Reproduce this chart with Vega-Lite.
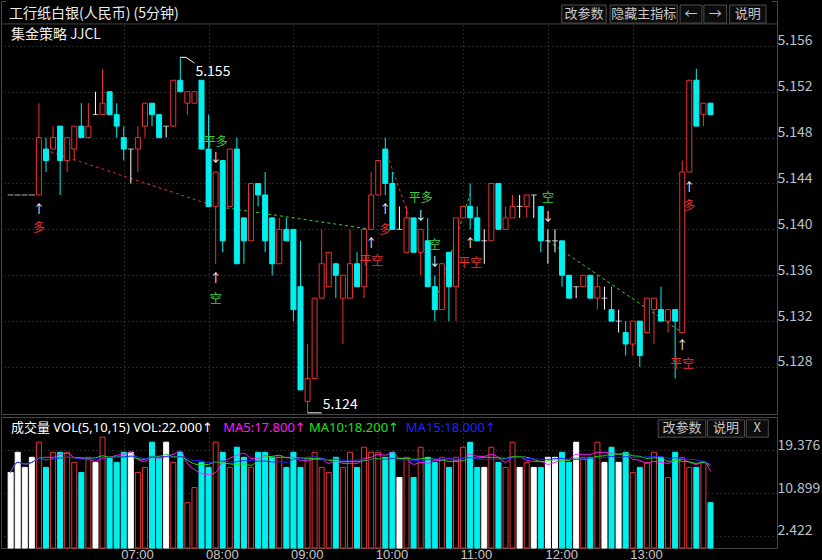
{
  "$schema": "https://vega.github.io/schema/vega-lite/v6.json",
  "background": "#000000",
  "padding": 0,
  "spacing": 0,
  "config": {
    "font": "Noto Sans CJK SC",
    "view": {"stroke": "#454545", "strokeWidth": 1},
    "axis": {"gridColor": "#4a4a4a", "gridDash": [1, 3], "gridWidth": 1, "domain": false, "ticks": false, "labelColor": "#b9c1cc", "labelFontSize": 14, "labelFont": "Noto Sans CJK SC"}
  },
  "resolve": {"scale": {"color": "independent"}},
  "datasets": {
    "bars": [
      {"t":"2024-01-02T05:40","o":5.143,"h":5.143,"l":5.143,"c":5.143,"v":15},
      {"t":"2024-01-02T05:45","o":5.143,"h":5.143,"l":5.143,"c":5.143,"v":19},
      {"t":"2024-01-02T05:50","o":5.143,"h":5.143,"l":5.143,"c":5.143,"v":16},
      {"t":"2024-01-02T05:55","o":5.143,"h":5.143,"l":5.143,"c":5.143,"v":18},
      {"t":"2024-01-02T06:00","o":5.143,"h":5.151,"l":5.143,"c":5.148,"v":21},
      {"t":"2024-01-02T06:05","o":5.147,"h":5.148,"l":5.145,"c":5.146,"v":16},
      {"t":"2024-01-02T06:10","o":5.147,"h":5.149,"l":5.147,"c":5.148,"v":19},
      {"t":"2024-01-02T06:15","o":5.149,"h":5.149,"l":5.143,"c":5.146,"v":19},
      {"t":"2024-01-02T06:20","o":5.146,"h":5.148,"l":5.145,"c":5.148,"v":19},
      {"t":"2024-01-02T06:25","o":5.147,"h":5.149,"l":5.146,"c":5.149,"v":17},
      {"t":"2024-01-02T06:30","o":5.149,"h":5.151,"l":5.148,"c":5.148,"v":15},
      {"t":"2024-01-02T06:35","o":5.148,"h":5.151,"l":5.148,"c":5.149,"v":18},
      {"t":"2024-01-02T06:40","o":5.150,"h":5.152,"l":5.150,"c":5.150,"v":17},
      {"t":"2024-01-02T06:45","o":5.150,"h":5.154,"l":5.150,"c":5.151,"v":22},
      {"t":"2024-01-02T06:50","o":5.152,"h":5.152,"l":5.150,"c":5.150,"v":18},
      {"t":"2024-01-02T06:55","o":5.150,"h":5.151,"l":5.148,"c":5.149,"v":17},
      {"t":"2024-01-02T07:00","o":5.148,"h":5.149,"l":5.146,"c":5.147,"v":19},
      {"t":"2024-01-02T07:05","o":5.147,"h":5.147,"l":5.144,"c":5.147,"v":19},
      {"t":"2024-01-02T07:10","o":5.147,"h":5.149,"l":5.145,"c":5.148,"v":15},
      {"t":"2024-01-02T07:15","o":5.149,"h":5.151,"l":5.148,"c":5.151,"v":16},
      {"t":"2024-01-02T07:20","o":5.151,"h":5.151,"l":5.149,"c":5.150,"v":21},
      {"t":"2024-01-02T07:25","o":5.150,"h":5.150,"l":5.148,"c":5.148,"v":18},
      {"t":"2024-01-02T07:30","o":5.149,"h":5.149,"l":5.148,"c":5.149,"v":21},
      {"t":"2024-01-02T07:35","o":5.149,"h":5.153,"l":5.149,"c":5.153,"v":17},
      {"t":"2024-01-02T07:40","o":5.153,"h":5.155,"l":5.152,"c":5.152,"v":19},
      {"t":"2024-01-02T07:45","o":5.151,"h":5.152,"l":5.150,"c":5.152,"v":9},
      {"t":"2024-01-02T07:50","o":5.151,"h":5.152,"l":5.151,"c":5.152,"v":12},
      {"t":"2024-01-02T07:55","o":5.153,"h":5.153,"l":5.147,"c":5.147,"v":17},
      {"t":"2024-01-02T08:00","o":5.147,"h":5.150,"l":5.142,"c":5.142,"v":16},
      {"t":"2024-01-02T08:05","o":5.142,"h":5.145,"l":5.137,"c":5.145,"v":21},
      {"t":"2024-01-02T08:10","o":5.146,"h":5.146,"l":5.138,"c":5.139,"v":19},
      {"t":"2024-01-02T08:15","o":5.142,"h":5.147,"l":5.142,"c":5.147,"v":16},
      {"t":"2024-01-02T08:20","o":5.147,"h":5.148,"l":5.137,"c":5.137,"v":20},
      {"t":"2024-01-02T08:25","o":5.141,"h":5.141,"l":5.137,"c":5.139,"v":18},
      {"t":"2024-01-02T08:30","o":5.139,"h":5.144,"l":5.139,"c":5.144,"v":16},
      {"t":"2024-01-02T08:35","o":5.144,"h":5.144,"l":5.142,"c":5.143,"v":19},
      {"t":"2024-01-02T08:40","o":5.143,"h":5.145,"l":5.138,"c":5.139,"v":19},
      {"t":"2024-01-02T08:45","o":5.141,"h":5.141,"l":5.136,"c":5.137,"v":18},
      {"t":"2024-01-02T08:50","o":5.137,"h":5.141,"l":5.137,"c":5.140,"v":18},
      {"t":"2024-01-02T08:55","o":5.140,"h":5.141,"l":5.139,"c":5.139,"v":16},
      {"t":"2024-01-02T09:00","o":5.140,"h":5.140,"l":5.132,"c":5.133,"v":19},
      {"t":"2024-01-02T09:05","o":5.135,"h":5.139,"l":5.126,"c":5.126,"v":16},
      {"t":"2024-01-02T09:10","o":5.125,"h":5.130,"l":5.124,"c":5.127,"v":18},
      {"t":"2024-01-02T09:15","o":5.127,"h":5.134,"l":5.127,"c":5.134,"v":19},
      {"t":"2024-01-02T09:20","o":5.134,"h":5.140,"l":5.134,"c":5.137,"v":16},
      {"t":"2024-01-02T09:25","o":5.135,"h":5.138,"l":5.135,"c":5.138,"v":15},
      {"t":"2024-01-02T09:30","o":5.137,"h":5.137,"l":5.134,"c":5.136,"v":18},
      {"t":"2024-01-02T09:35","o":5.134,"h":5.136,"l":5.130,"c":5.136,"v":16},
      {"t":"2024-01-02T09:40","o":5.134,"h":5.140,"l":5.134,"c":5.137,"v":19},
      {"t":"2024-01-02T09:45","o":5.137,"h":5.138,"l":5.135,"c":5.135,"v":16},
      {"t":"2024-01-02T09:50","o":5.135,"h":5.140,"l":5.134,"c":5.140,"v":20},
      {"t":"2024-01-02T09:55","o":5.140,"h":5.145,"l":5.140,"c":5.143,"v":19},
      {"t":"2024-01-02T10:00","o":5.143,"h":5.146,"l":5.143,"c":5.146,"v":19},
      {"t":"2024-01-02T10:05","o":5.147,"h":5.148,"l":5.143,"c":5.144,"v":18},
      {"t":"2024-01-02T10:10","o":5.144,"h":5.145,"l":5.140,"c":5.140,"v":19},
      {"t":"2024-01-02T10:15","o":5.140,"h":5.142,"l":5.140,"c":5.140,"v":14},
      {"t":"2024-01-02T10:20","o":5.138,"h":5.142,"l":5.138,"c":5.141,"v":18},
      {"t":"2024-01-02T10:25","o":5.141,"h":5.141,"l":5.138,"c":5.138,"v":14},
      {"t":"2024-01-02T10:30","o":5.138,"h":5.140,"l":5.136,"c":5.140,"v":20},
      {"t":"2024-01-02T10:35","o":5.139,"h":5.141,"l":5.135,"c":5.135,"v":18},
      {"t":"2024-01-02T10:40","o":5.135,"h":5.136,"l":5.132,"c":5.133,"v":17},
      {"t":"2024-01-02T10:45","o":5.133,"h":5.137,"l":5.133,"c":5.137,"v":18},
      {"t":"2024-01-02T10:50","o":5.138,"h":5.138,"l":5.132,"c":5.135,"v":16},
      {"t":"2024-01-02T10:55","o":5.135,"h":5.141,"l":5.132,"c":5.141,"v":18},
      {"t":"2024-01-02T11:00","o":5.141,"h":5.142,"l":5.141,"c":5.142,"v":20},
      {"t":"2024-01-02T11:05","o":5.142,"h":5.144,"l":5.140,"c":5.141,"v":21},
      {"t":"2024-01-02T11:10","o":5.141,"h":5.142,"l":5.139,"c":5.139,"v":16},
      {"t":"2024-01-02T11:15","o":5.139,"h":5.140,"l":5.137,"c":5.139,"v":16},
      {"t":"2024-01-02T11:20","o":5.139,"h":5.144,"l":5.139,"c":5.144,"v":20},
      {"t":"2024-01-02T11:25","o":5.144,"h":5.144,"l":5.140,"c":5.140,"v":17},
      {"t":"2024-01-02T11:30","o":5.140,"h":5.142,"l":5.140,"c":5.141,"v":16},
      {"t":"2024-01-02T11:35","o":5.141,"h":5.143,"l":5.141,"c":5.142,"v":21},
      {"t":"2024-01-02T11:40","o":5.142,"h":5.143,"l":5.141,"c":5.142,"v":16},
      {"t":"2024-01-02T11:45","o":5.142,"h":5.143,"l":5.141,"c":5.143,"v":17},
      {"t":"2024-01-02T11:50","o":5.143,"h":5.143,"l":5.141,"c":5.143,"v":16},
      {"t":"2024-01-02T11:55","o":5.142,"h":5.142,"l":5.138,"c":5.139,"v":16},
      {"t":"2024-01-02T12:00","o":5.139,"h":5.140,"l":5.137,"c":5.139,"v":18},
      {"t":"2024-01-02T12:05","o":5.139,"h":5.140,"l":5.138,"c":5.139,"v":18},
      {"t":"2024-01-02T12:10","o":5.139,"h":5.139,"l":5.135,"c":5.136,"v":19},
      {"t":"2024-01-02T12:15","o":5.136,"h":5.136,"l":5.134,"c":5.134,"v":17},
      {"t":"2024-01-02T12:20","o":5.135,"h":5.135,"l":5.134,"c":5.135,"v":21},
      {"t":"2024-01-02T12:25","o":5.135,"h":5.136,"l":5.135,"c":5.136,"v":18},
      {"t":"2024-01-02T12:30","o":5.136,"h":5.136,"l":5.134,"c":5.134,"v":18},
      {"t":"2024-01-02T12:35","o":5.134,"h":5.136,"l":5.133,"c":5.135,"v":21},
      {"t":"2024-01-02T12:40","o":5.134,"h":5.135,"l":5.133,"c":5.134,"v":17},
      {"t":"2024-01-02T12:45","o":5.133,"h":5.135,"l":5.132,"c":5.132,"v":20},
      {"t":"2024-01-02T12:50","o":5.132,"h":5.133,"l":5.131,"c":5.132,"v":17},
      {"t":"2024-01-02T12:55","o":5.131,"h":5.132,"l":5.129,"c":5.130,"v":19},
      {"t":"2024-01-02T13:00","o":5.130,"h":5.132,"l":5.129,"c":5.132,"v":15},
      {"t":"2024-01-02T13:05","o":5.132,"h":5.132,"l":5.128,"c":5.129,"v":16},
      {"t":"2024-01-02T13:10","o":5.131,"h":5.134,"l":5.131,"c":5.134,"v":17},
      {"t":"2024-01-02T13:15","o":5.133,"h":5.134,"l":5.130,"c":5.134,"v":19},
      {"t":"2024-01-02T13:20","o":5.133,"h":5.135,"l":5.132,"c":5.132,"v":18},
      {"t":"2024-01-02T13:25","o":5.132,"h":5.133,"l":5.131,"c":5.133,"v":14},
      {"t":"2024-01-02T13:30","o":5.133,"h":5.133,"l":5.127,"c":5.132,"v":19},
      {"t":"2024-01-02T13:35","o":5.131,"h":5.146,"l":5.131,"c":5.145,"v":18},
      {"t":"2024-01-02T13:40","o":5.145,"h":5.153,"l":5.145,"c":5.153,"v":16},
      {"t":"2024-01-02T13:45","o":5.153,"h":5.154,"l":5.149,"c":5.149,"v":16},
      {"t":"2024-01-02T13:50","o":5.150,"h":5.151,"l":5.149,"c":5.151,"v":17},
      {"t":"2024-01-02T13:55","o":5.151,"h":5.151,"l":5.150,"c":5.150,"v":9}
    ],
    "signals": [
      {"t":"2024-01-02T06:00","p":5.14169,"txt":"↑"},
      {"t":"2024-01-02T06:00","p":5.14012,"txt":"多"},
      {"t":"2024-01-02T08:05","p":5.14763,"txt":"平多"},
      {"t":"2024-01-02T08:05","p":5.14618,"txt":"↓"},
      {"t":"2024-01-02T08:05","p":5.13567,"txt":"↑"},
      {"t":"2024-01-02T08:05","p":5.13391,"txt":"空"},
      {"t":"2024-01-02T09:55","p":5.13872,"txt":"↑"},
      {"t":"2024-01-02T09:55","p":5.13723,"txt":"平空"},
      {"t":"2024-01-02T10:05","p":5.14169,"txt":"↑"},
      {"t":"2024-01-02T10:05","p":5.13997,"txt":"多"},
      {"t":"2024-01-02T10:30","p":5.14270,"txt":"平多"},
      {"t":"2024-01-02T10:30","p":5.14115,"txt":"↓"},
      {"t":"2024-01-02T10:40","p":5.13863,"txt":"空"},
      {"t":"2024-01-02T10:40","p":5.13711,"txt":"↓"},
      {"t":"2024-01-02T11:05","p":5.13872,"txt":"↑"},
      {"t":"2024-01-02T11:05","p":5.13707,"txt":"平空"},
      {"t":"2024-01-02T12:00","p":5.14270,"txt":"空"},
      {"t":"2024-01-02T12:00","p":5.14112,"txt":"↓"},
      {"t":"2024-01-02T13:35","p":5.12980,"txt":"↑"},
      {"t":"2024-01-02T13:35","p":5.12825,"txt":"平空"},
      {"t":"2024-01-02T13:40","p":5.14363,"txt":"↑"},
      {"t":"2024-01-02T13:40","p":5.14204,"txt":"多"}
    ],
    "trades": [
      {"seg":1,"side":"多","t":"2024-01-02T06:00","p":5.1471},
      {"seg":1,"side":"多","t":"2024-01-02T08:00","p":5.1422},
      {"seg":2,"side":"空","t":"2024-01-02T08:00","p":5.1421},
      {"seg":2,"side":"空","t":"2024-01-02T09:55","p":5.1400},
      {"seg":3,"side":"多","t":"2024-01-02T10:05","p":5.1470},
      {"seg":3,"side":"多","t":"2024-01-02T10:25","p":5.1400},
      {"seg":4,"side":"空","t":"2024-01-02T10:40","p":5.1335},
      {"seg":4,"side":"空","t":"2024-01-02T11:05","p":5.1431},
      {"seg":5,"side":"空","t":"2024-01-02T12:00","p":5.1390},
      {"seg":5,"side":"空","t":"2024-01-02T13:35","p":5.1310}
    ],
    "leaders": [
      {"seg":"hi","t":"2024-01-02T07:40","p":5.155},
      {"seg":"hi","t":"2024-01-02T07:44","p":5.155},
      {"seg":"hi","t":"2024-01-02T07:50","p":5.1545},
      {"seg":"lo","t":"2024-01-02T09:10","p":5.124},
      {"seg":"lo","t":"2024-01-02T09:20","p":5.124}
    ],
    "extremes": [
      {"kind":"hi","txt":"5.155","t":"2024-01-02T07:50","p":5.1545},
      {"kind":"lo","txt":"5.124","t":"2024-01-02T09:20","p":5.124}
    ],
    "thead": [
      {"label":"工行纸白银(人民币) (5分钟)","t":"2024-01-02T05:38:49","p":5.1588},
      {"label":"集金策略 JJCL","t":"2024-01-02T05:40:13","p":5.15694}
    ],
    "tbtn": [
      {"label":"改参数","t1":"2024-01-02T12:09:48","t2":"2024-01-02T12:41:12","tc":"2024-01-02T12:25:30"},
      {"label":"隐藏主指标","t1":"2024-01-02T12:44:00","t2":"2024-01-02T13:31:30","tc":"2024-01-02T13:07:45"},
      {"label":"←","t1":"2024-01-02T13:33:30","t2":"2024-01-02T13:48:54","tc":"2024-01-02T13:41:12"},
      {"label":"→","t1":"2024-01-02T13:50:18","t2":"2024-01-02T14:06:24","tc":"2024-01-02T13:58:21"},
      {"label":"说明","t1":"2024-01-02T14:08:30","t2":"2024-01-02T14:34:18","tc":"2024-01-02T14:21:24"}
    ],
    "vhead": [
      {"key":"VOL","label":"成交量 VOL(5,10,15) VOL:22.000↑","t":"2024-01-02T05:40:13"},
      {"key":"MA5","label":"MA5:17.800↑","t":"2024-01-02T08:10:18"},
      {"key":"MA10","label":"MA10:18.200↑","t":"2024-01-02T09:11:00"},
      {"key":"MA15","label":"MA15:18.000↑","t":"2024-01-02T10:19:30"}
    ],
    "vbtn": [
      {"label":"改参数","t1":"2024-01-02T13:18:00","t2":"2024-01-02T13:51:42","tc":"2024-01-02T13:34:51"},
      {"label":"说明","t1":"2024-01-02T13:52:54","t2":"2024-01-02T14:19:06","tc":"2024-01-02T14:06:00"},
      {"label":"X","t1":"2024-01-02T14:20:18","t2":"2024-01-02T14:35:54","tc":"2024-01-02T14:28:06"}
    ]
  },
  "vconcat": [
    {
      "width": 776,
      "height": 413,
      "layer": [
        {
          "data": {"name": "trades"},
          "mark": {"type": "line", "strokeWidth": 1, "strokeDash": [3, 3]},
          "encoding": {
            "x": {"field": "t", "type": "temporal",
                  "scale": {"domain": [{"year":2024,"month":1,"date":2,"hours":5,"minutes":36,"seconds":43},{"year":2024,"month":1,"date":2,"hours":14,"minutes":38,"seconds":30}], "nice": false},
                  "axis": {"values": [{"year":2024,"month":1,"date":2,"hours":7},{"year":2024,"month":1,"date":2,"hours":8},{"year":2024,"month":1,"date":2,"hours":9},{"year":2024,"month":1,"date":2,"hours":10},{"year":2024,"month":1,"date":2,"hours":11},{"year":2024,"month":1,"date":2,"hours":12},{"year":2024,"month":1,"date":2,"hours":13}],
                           "grid": true, "labels": false, "ticks": false, "domain": false, "minExtent": 0, "maxExtent": 0, "title": null}},
            "y": {"field": "p", "type": "quantitative",
                  "scale": {"domain": [5.1239, 5.15991], "zero": false, "nice": false},
                  "axis": {"orient": "right", "values": [5.128, 5.132, 5.136, 5.14, 5.144, 5.148, 5.152, 5.156], "format": ".3f", "grid": true, "labelBaseline": "alphabetic", "labelAlign": "left", "labelPadding": 0, "labelOffset": -1, "minExtent": 46, "maxExtent": 46, "title": null}},
            "detail": {"field": "seg"},
            "color": {"field": "side", "type": "nominal", "scale": {"domain": ["↑","↓","多","平空","平多","空"], "range": ["#ffffff","#ffffff","#e8322f","#e8322f","#3ccf3c","#3ccf3c"]}, "legend": null}
          }
        },
        {
          "data": {"name": "bars"},
          "mark": {"type": "rule", "strokeWidth": 1},
          "encoding": {
            "x": {"field": "t", "type": "temporal"},
            "y": {"field": "l", "type": "quantitative"},
            "y2": {"field": "h"},
            "stroke": {"condition": [{"test": "datum.c > datum.o", "value": "#e8322f"}, {"test": "datum.c < datum.o", "value": "#00f0f0"}], "value": "#ffffff"}
          }
        },
        {
          "data": {"name": "bars"},
          "transform": [{"filter": "datum.o != datum.c"}],
          "mark": {"type": "bar", "width": 5, "strokeWidth": 1},
          "encoding": {
            "x": {"field": "t", "type": "temporal"},
            "y": {"field": "o", "type": "quantitative"},
            "y2": {"field": "c"},
            "fill": {"condition": {"test": "datum.c > datum.o", "value": "#000000"}, "value": "#00f0f0"},
            "stroke": {"condition": {"test": "datum.c > datum.o", "value": "#e8322f"}, "value": "#00f0f0"}
          }
        },
        {
          "data": {"name": "bars"},
          "transform": [{"filter": "datum.o == datum.c"}],
          "mark": {"type": "tick", "orient": "horizontal", "size": 6, "thickness": 1, "color": "#ffffff"},
          "encoding": {
            "x": {"field": "t", "type": "temporal"},
            "y": {"field": "o", "type": "quantitative"}
          }
        },
        {
          "data": {"name": "signals"},
          "mark": {"type": "text", "align": "center", "baseline": "middle"},
          "encoding": {
            "x": {"field": "t", "type": "temporal"},
            "y": {"field": "p", "type": "quantitative"},
            "text": {"field": "txt"},
            "size": {"value": 12},
            "color": {"field": "txt", "type": "nominal", "scale": {"domain": ["↑","↓","多","平空","平多","空"], "range": ["#ffffff","#ffffff","#e8322f","#e8322f","#3ccf3c","#3ccf3c"]}, "legend": null}
          }
        },
        {
          "data": {"name": "leaders"},
          "mark": {"type": "line", "color": "#ffffff", "strokeWidth": 1},
          "encoding": {
            "x": {"field": "t", "type": "temporal"},
            "y": {"field": "p", "type": "quantitative"},
            "detail": {"field": "seg"}
          }
        },
        {
          "data": {"name": "extremes"},
          "transform": [{"filter": "datum.kind == 'hi'"}],
          "mark": {"type": "text", "align": "left", "baseline": "alphabetic", "dx": 1, "dy": 13, "fontSize": 14, "color": "#ffffff"},
          "encoding": {
            "x": {"field": "t", "type": "temporal"},
            "y": {"field": "p", "type": "quantitative"},
            "text": {"field": "txt"}
          }
        },
        {
          "data": {"name": "extremes"},
          "transform": [{"filter": "datum.kind == 'lo'"}],
          "mark": {"type": "text", "align": "left", "baseline": "alphabetic", "dx": 1, "dy": -4, "fontSize": 14, "color": "#ffffff"},
          "encoding": {
            "x": {"field": "t", "type": "temporal"},
            "y": {"field": "p", "type": "quantitative"},
            "text": {"field": "txt"}
          }
        },
        {
          "data": {"values": [{}]},
          "mark": {"type": "rect", "fill": "#000000"},
          "encoding": {
            "x": {"datum": {"year":2024,"month":1,"date":2,"hours":5,"minutes":36,"seconds":43}, "type": "temporal"},
            "x2": {"datum": {"year":2024,"month":1,"date":2,"hours":14,"minutes":38,"seconds":30}},
            "y": {"datum": 5.15791, "type": "quantitative"},
            "y2": {"datum": 5.15991}
          }
        },
        {
          "data": {"values": [{}]},
          "mark": {"type": "rule", "color": "#454545", "strokeWidth": 1},
          "encoding": {"y": {"datum": 5.15791, "type": "quantitative"}}
        },
        {
          "data": {"name": "thead"},
          "mark": {"type": "text", "align": "left", "baseline": "middle", "fontSize": 14, "color": "#eeeeee"},
          "encoding": {
            "x": {"field": "t", "type": "temporal"},
            "y": {"field": "p", "type": "quantitative"},
            "text": {"field": "label"}
          }
        },
        {
          "data": {"name": "tbtn"},
          "mark": {"type": "rect", "fill": "#0c0c0c", "stroke": "#4e4e4e", "strokeWidth": 1},
          "encoding": {
            "x": {"field": "t1", "type": "temporal"},
            "x2": {"field": "t2"},
            "y": {"datum": 5.15956, "type": "quantitative"},
            "y2": {"datum": 5.15798}
          }
        },
        {
          "data": {"name": "tbtn"},
          "mark": {"type": "text", "align": "center", "baseline": "middle", "fontSize": 13, "color": "#c8c8c8"},
          "encoding": {
            "x": {"field": "tc", "type": "temporal"},
            "y": {"datum": 5.15877, "type": "quantitative"},
            "text": {"field": "label"}
          }
        }
      ]
    },
    {
      "width": 776,
      "height": 131,
      "layer": [
        {
          "data": {"name": "bars"},
          "mark": {"type": "bar", "width": 5, "strokeWidth": 1},
          "encoding": {
            "x": {"field": "t", "type": "temporal",
                  "scale": {"domain": [{"year":2024,"month":1,"date":2,"hours":5,"minutes":36,"seconds":43},{"year":2024,"month":1,"date":2,"hours":14,"minutes":38,"seconds":30}], "nice": false},
                  "axis": {"values": [{"year":2024,"month":1,"date":2,"hours":7},{"year":2024,"month":1,"date":2,"hours":8},{"year":2024,"month":1,"date":2,"hours":9},{"year":2024,"month":1,"date":2,"hours":10},{"year":2024,"month":1,"date":2,"hours":11},{"year":2024,"month":1,"date":2,"hours":12},{"year":2024,"month":1,"date":2,"hours":13}],
                           "format": "%H:%M", "grid": true, "labelAlign": "left", "labelBaseline": "top", "labelPadding": 0, "labelOffset": -3, "labelFont": "Liberation Sans", "labelFontSize": 13, "labelColor": "#c8c8c8", "labelFlush": false, "labelOverlap": false, "minExtent": 16, "maxExtent": 16, "title": null}},
            "y": {"field": "v", "type": "quantitative",
                  "scale": {"domain": [0, 26], "nice": false},
                  "axis": {"orient": "right", "values": [2.422, 10.899, 19.376], "format": ".3f", "grid": true, "labelBaseline": "alphabetic", "labelAlign": "left", "labelPadding": 0, "labelOffset": -1, "minExtent": 46, "maxExtent": 46, "title": null}},
            "fill": {"condition": [{"test": "datum.c > datum.o", "value": "#000000"}, {"test": "datum.c < datum.o", "value": "#00f0f0"}], "value": "#ffffff"},
            "stroke": {"condition": [{"test": "datum.c > datum.o", "value": "#e8322f"}, {"test": "datum.c < datum.o", "value": "#00f0f0"}], "value": "#ffffff"}
          }
        },
        {
          "data": {"name": "bars"},
          "transform": [
            {"window": [{"op": "mean", "field": "v", "as": "MA5"}], "frame": [-4, 0], "sort": [{"field": "t"}]},
            {"window": [{"op": "mean", "field": "v", "as": "MA10"}], "frame": [-9, 0], "sort": [{"field": "t"}]},
            {"window": [{"op": "mean", "field": "v", "as": "MA15"}], "frame": [-14, 0], "sort": [{"field": "t"}]},
            {"fold": ["MA5", "MA10", "MA15"], "as": ["key", "val"]}
          ],
          "mark": {"type": "line", "strokeWidth": 1, "interpolate": "monotone"},
          "encoding": {
            "x": {"field": "t", "type": "temporal"},
            "y": {"field": "val", "type": "quantitative"},
            "color": {"field": "key", "type": "nominal", "scale": {"domain": ["VOL", "MA5", "MA10", "MA15"], "range": ["#ffffff", "#ff1aff", "#1ee01e", "#2323ff"]}, "legend": null}
          }
        },
        {
          "data": {"name": "vhead"},
          "mark": {"type": "text", "align": "left", "baseline": "middle", "fontSize": 13, "font": "Noto Sans, DejaVu Sans, Noto Sans CJK SC"},
          "encoding": {
            "x": {"field": "t", "type": "temporal"},
            "y": {"datum": 23.85, "type": "quantitative"},
            "text": {"field": "label"},
            "color": {"field": "key", "type": "nominal", "scale": {"domain": ["VOL", "MA5", "MA10", "MA15"], "range": ["#ffffff", "#ff1aff", "#1ee01e", "#2323ff"]}, "legend": null}
          }
        },
        {
          "data": {"name": "vbtn"},
          "mark": {"type": "rect", "fill": "#0c0c0c", "stroke": "#4e4e4e", "strokeWidth": 1},
          "encoding": {
            "x": {"field": "t1", "type": "temporal"},
            "x2": {"field": "t2"},
            "y": {"datum": 25.45, "type": "quantitative"},
            "y2": {"datum": 22.0}
          }
        },
        {
          "data": {"name": "vbtn"},
          "mark": {"type": "text", "align": "center", "baseline": "middle", "fontSize": 13, "color": "#c8c8c8"},
          "encoding": {
            "x": {"field": "tc", "type": "temporal"},
            "y": {"datum": 23.72, "type": "quantitative"},
            "text": {"field": "label"}
          }
        }
      ]
    }
  ]
}
